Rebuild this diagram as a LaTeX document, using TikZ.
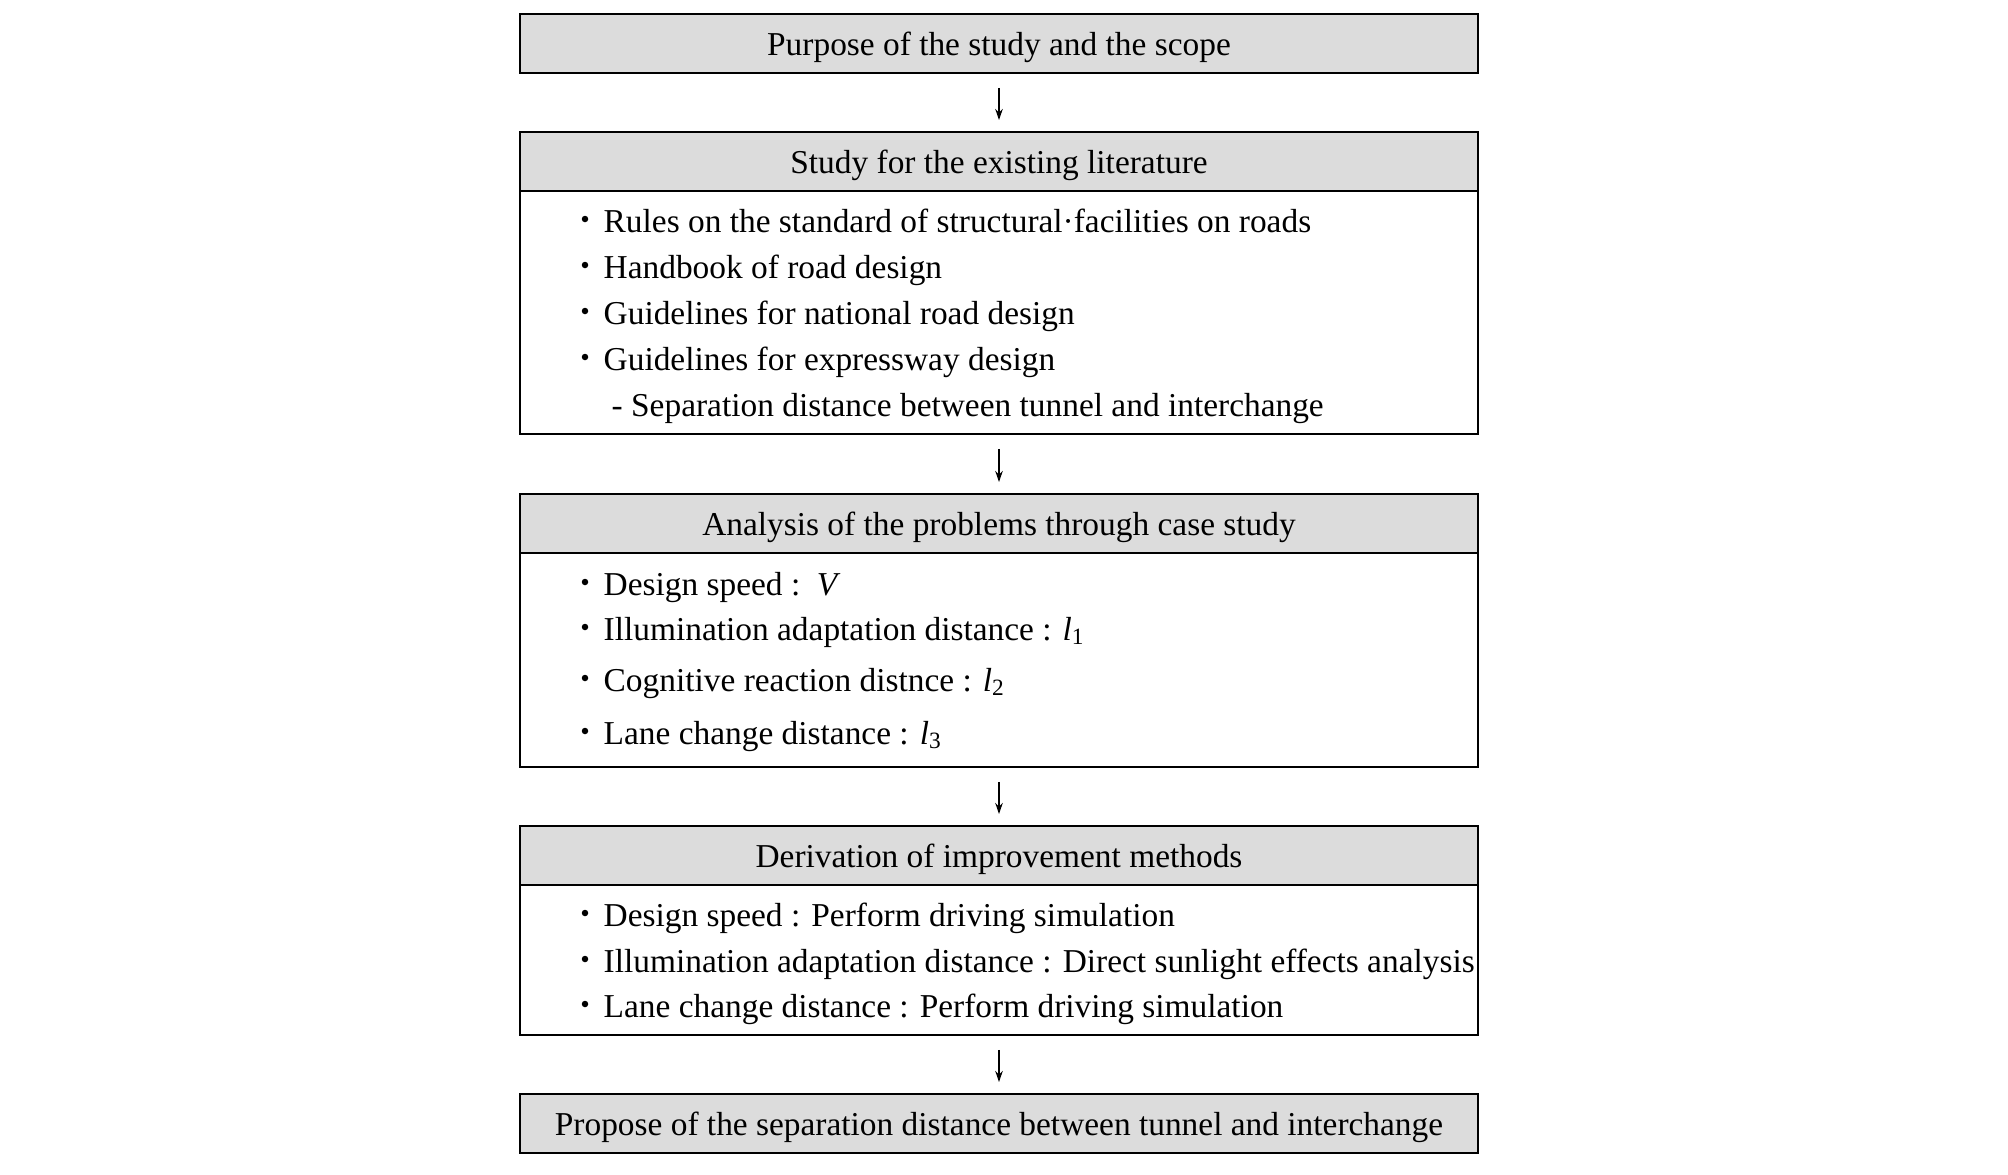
\documentclass[tikz,border=0pt]{standalone}
\usepackage{fontspec}
\setmainfont{Liberation Serif}
\usepackage{xcolor}
\usetikzlibrary{arrows.meta,positioning}

\definecolor{headgray}{RGB}{220,220,220}

\begin{document}
\begin{tikzpicture}[
  font=\fontsize{9.5}{11.4}\selectfont,
  head/.style={rectangle, draw, fill=headgray, line width=0.55pt, minimum width=9.58cm, minimum height=0.59cm, inner sep=0pt, text height=0.9em, text depth=0.19em, anchor=north},
  body/.style={rectangle, draw, line width=0.55pt, minimum width=9.58cm, inner sep=0pt, anchor=north},
  item/.style={anchor=base west, inner sep=0pt},
  dot/.style={circle, fill=black, inner sep=0pt, minimum size=0.065cm},
  flow/.style={-{Stealth[length=0.11cm, width=0.075cm]}, line width=0.4pt}
]
\useasboundingbox (0,0) rectangle (20.08,-11.74);

% boxes
\node[head] (purpose) at (9.99,-0.13) {Purpose of the study and the scope};
\node[head] (literature) at (9.99,-1.31) {Study for the existing literature};
\node[body, minimum height=2.43cm] (litbody) at (9.99,-1.90) {};
\node[head] (problems) at (9.99,-4.93) {Analysis of the problems through case study};
\node[body, minimum height=2.14cm] (probbody) at (9.99,-5.52) {};
\node[head] (methods) at (9.99,-8.25) {Derivation of improvement methods};
\node[body, minimum height=1.50cm] (methbody) at (9.99,-8.84) {};
\node[head] (propose) at (9.99,-10.93) {Propose of the separation distance between tunnel and interchange};

% literature items
\node[dot] (d21) at (5.85,-2.19) {};
\node[dot] (d22) at (5.85,-2.65) {};
\node[dot] (d23) at (5.85,-3.11) {};
\node[dot] (d24) at (5.85,-3.57) {};
\node[item] (l21) at (6.03,-2.32) {Rules on the standard of structural·facilities on roads};
\node[item] (l22) at (6.03,-2.78) {Handbook of road design};
\node[item] (l23) at (6.03,-3.24) {Guidelines for national road design};
\node[item] (l24) at (6.03,-3.70) {Guidelines for expressway design};
\node[item] (l25) at (6.11,-4.16) {- Separation distance between tunnel and interchange};

% problem items
\node[dot] (d31) at (5.85,-5.82) {};
\node[dot] (d32) at (5.85,-6.27) {};
\node[dot] (d33) at (5.85,-6.78) {};
\node[dot] (d34) at (5.85,-7.31) {};
\node[item] (l31) at (6.03,-5.95) {Design speed :\enspace\textit{V}};
\node[item] (l32) at (6.03,-6.40) {Illumination adaptation distance : \textit{l}\textsubscript{1}};
\node[item] (l33) at (6.03,-6.91) {Cognitive reaction distnce : \textit{l}\textsubscript{2}};
\node[item] (l34) at (6.03,-7.44) {Lane change distance : \textit{l}\textsubscript{3}};

% method items
\node[dot] (d41) at (5.85,-9.13) {};
\node[dot] (d42) at (5.85,-9.59) {};
\node[dot] (d43) at (5.85,-10.04) {};
\node[item] (l41) at (6.03,-9.26) {Design speed : Perform driving simulation};
\node[item] (l42) at (6.03,-9.72) {Illumination adaptation distance : Direct sunlight effects analysis};
\node[item] (l43) at (6.03,-10.17) {Lane change distance : Perform driving simulation};

% arrows
\draw[flow] ([yshift=-0.14cm]purpose.south) -- ([yshift=0.11cm]literature.north);
\draw[flow] ([yshift=-0.14cm]litbody.south) -- ([yshift=0.11cm]problems.north);
\draw[flow] ([yshift=-0.14cm]probbody.south) -- ([yshift=0.11cm]methods.north);
\draw[flow] ([yshift=-0.14cm]methbody.south) -- ([yshift=0.11cm]propose.north);
\end{tikzpicture}
\end{document}
